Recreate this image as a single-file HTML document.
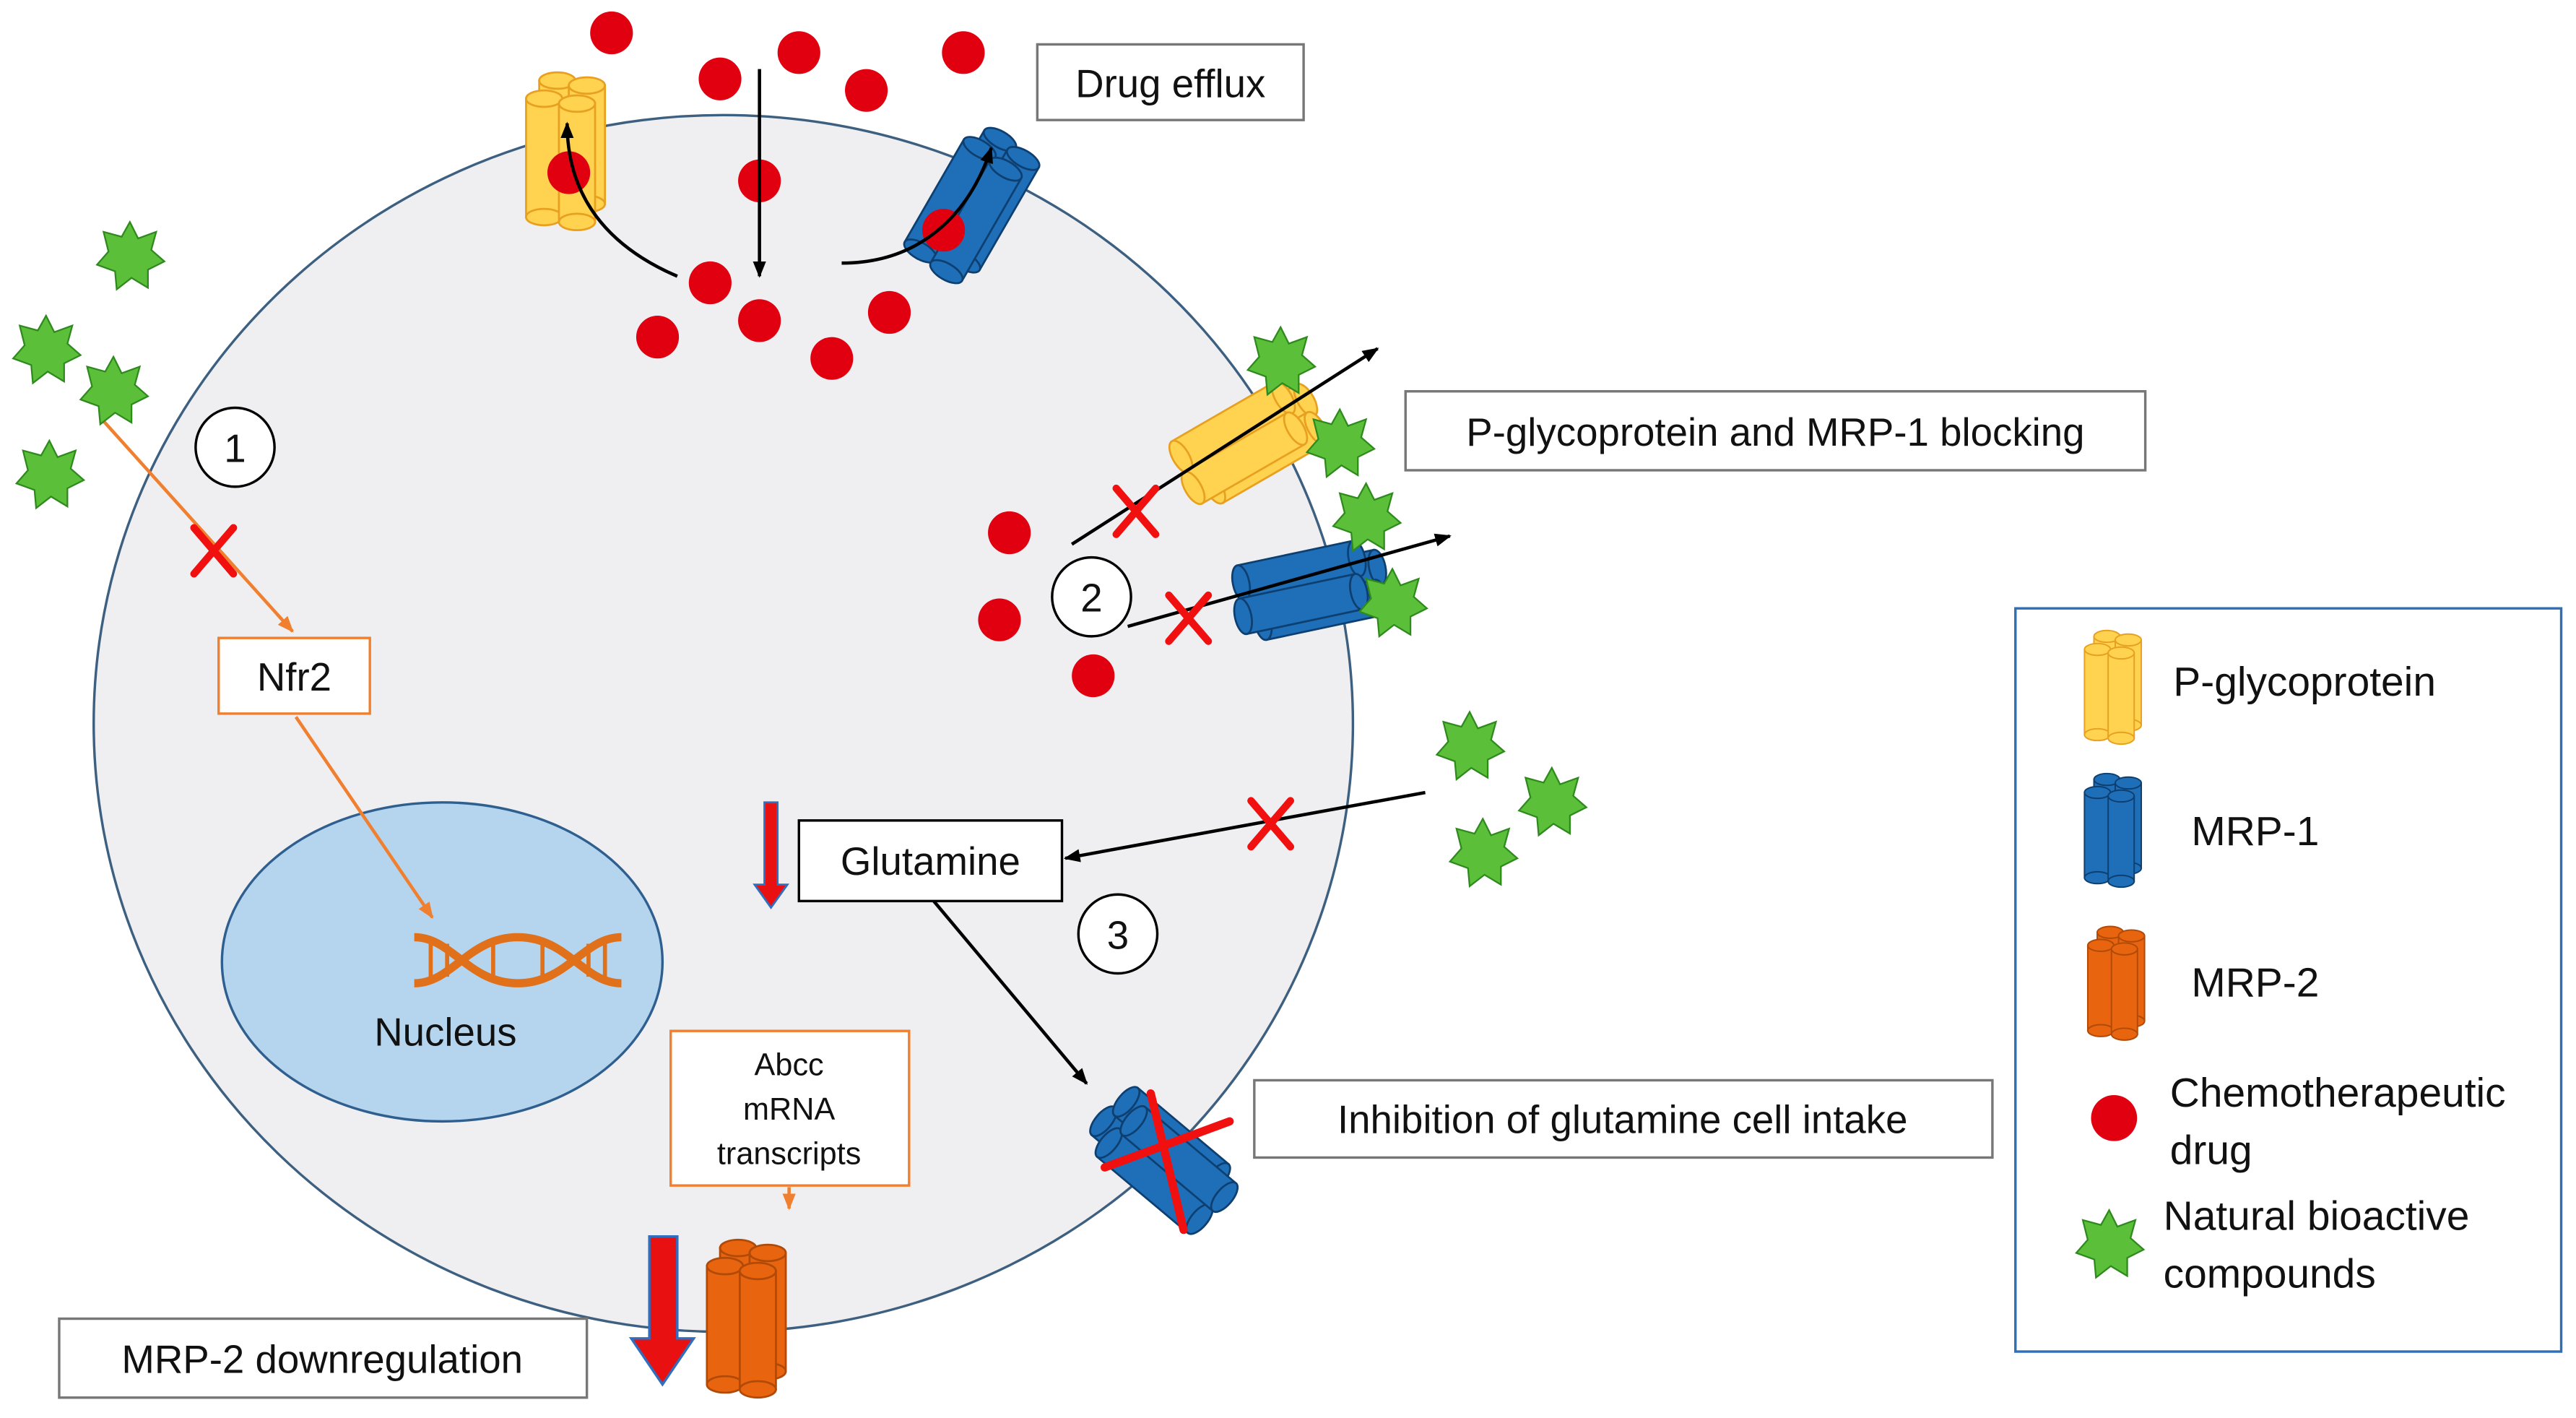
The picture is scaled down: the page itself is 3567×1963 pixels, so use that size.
<!DOCTYPE html>
<html><head><meta charset="utf-8"><style>
html,body{margin:0;padding:0;background:#fff}
svg{display:block}
text{font-family:"Liberation Sans",sans-serif;fill:#111}
</style></head><body>
<svg width="3567" height="1963" viewBox="0 0 1567 862.4" preserveAspectRatio="none" xmlns="http://www.w3.org/2000/svg">
<defs>
<marker id="ab" markerWidth="10" markerHeight="10" refX="9" refY="5" orient="auto" markerUnits="userSpaceOnUse"><path d="M0,1 L10,5 L0,9 z" fill="#000"/></marker>
<marker id="ao" markerWidth="10" markerHeight="10" refX="9" refY="5" orient="auto" markerUnits="userSpaceOnUse"><path d="M0,1 L10,5 L0,9 z" fill="#f08030"/></marker>
<g id="cy">
<rect x="-11" y="-36" width="22" height="72"/>
<ellipse cx="0" cy="36" rx="11" ry="5"/>
<ellipse cx="0" cy="-36" rx="11" ry="5"/>
</g>
<g id="tY" fill="#ffd250" stroke="#e8a020" stroke-width="1.2">
<use href="#cy" x="-6" y="-7"/><use href="#cy" x="12" y="-4"/><use href="#cy" x="-14" y="4"/><use href="#cy" x="6" y="7"/>
</g>
<g id="tB" fill="#1f6fb8" stroke="#0d3f70" stroke-width="1.2">
<use href="#cy" x="-6" y="-7"/><use href="#cy" x="12" y="-4"/><use href="#cy" x="-14" y="4"/><use href="#cy" x="6" y="7"/>
</g>
<g id="tO" fill="#e8640e" stroke="#b04a08" stroke-width="1.2">
<use href="#cy" x="-6" y="-7"/><use href="#cy" x="12" y="-4"/><use href="#cy" x="-14" y="4"/><use href="#cy" x="6" y="7"/>
</g>
<polygon id="st" points="0,-21 5,-11 16,-15 13,-4 21,3 11,8 11,19 1,13 -8,20 -9,9 -20,5 -13,-3 -16,-15 -5,-12" fill="#5cbf3a" stroke="#2f8a1e" stroke-width="1"/>
<g id="rx" stroke="#f01010" stroke-width="4.5" stroke-linecap="round"><line x1="-12" y1="-14" x2="12" y2="14"/><line x1="12" y1="-14" x2="-12" y2="14"/></g>
</defs>

<ellipse cx="440" cy="440" rx="383" ry="370" fill="#efeff1" stroke="#3d5f80" stroke-width="1.5"/>
<ellipse cx="269" cy="585" rx="134" ry="97" fill="#b5d5ee" stroke="#2f5f8f" stroke-width="1.5"/>
<g stroke="#e0701a" stroke-width="5" fill="none">
<path d="M252,570 C275,570 285,598 315,598 C345,598 355,570 378,570"/>
<path d="M252,598 C275,598 285,570 315,570 C345,570 355,598 378,598"/>
</g>
<g stroke="#e0701a" stroke-width="2.5"><line x1="262" y1="572" x2="262" y2="596"/><line x1="272" y1="574" x2="272" y2="594"/><line x1="300" y1="574" x2="300" y2="594"/><line x1="330" y1="574" x2="330" y2="594"/><line x1="358" y1="574" x2="358" y2="594"/><line x1="368" y1="572" x2="368" y2="596"/></g>
<text x="271" y="636" font-size="24" text-anchor="middle">Nucleus</text>

<use href="#tY" transform="translate(345,92)"/>
<use href="#tB" transform="translate(592,125) rotate(30)"/>
<use href="#tY" transform="translate(760,270) rotate(60)"/>
<use href="#tB" transform="translate(797,360) rotate(78)"/>
<use href="#tB" transform="translate(708,705) rotate(-50)"/>
<use href="#tO" transform="translate(455,802)"/>

<g fill="#e00010">
<circle cx="372" cy="20" r="13"/><circle cx="438" cy="48" r="13"/><circle cx="486" cy="32" r="13"/><circle cx="527" cy="55" r="13"/><circle cx="586" cy="32" r="13"/><circle cx="462" cy="110" r="13"/><circle cx="346" cy="105" r="13"/><circle cx="432" cy="172" r="13"/><circle cx="462" cy="195" r="13"/><circle cx="400" cy="205" r="13"/><circle cx="506" cy="218" r="13"/><circle cx="541" cy="190" r="13"/><circle cx="574" cy="140" r="13"/><circle cx="614" cy="324" r="13"/><circle cx="608" cy="377" r="13"/><circle cx="665" cy="411" r="13"/>
</g>

<g stroke="#000" stroke-width="2" fill="none">
<line x1="462" y1="42" x2="462" y2="168" marker-end="url(#ab)"/>
<path d="M412,168 C370,150 345,120 345,75" marker-end="url(#ab)"/>
<path d="M512,160 C560,160 590,130 603,90" marker-end="url(#ab)"/>
<line x1="652" y1="331" x2="838" y2="212" marker-end="url(#ab)"/>
<line x1="686" y1="381" x2="882" y2="326" marker-end="url(#ab)"/>
<line x1="867" y1="482" x2="648" y2="522" marker-end="url(#ab)"/>
<line x1="568" y1="548" x2="661" y2="659" marker-end="url(#ab)"/>
</g>
<g stroke="#f08030" stroke-width="2" fill="none">
<line x1="62" y1="255" x2="178" y2="384" marker-end="url(#ao)"/>
<line x1="180" y1="436" x2="263" y2="558" marker-end="url(#ao)"/>
<line x1="480" y1="722" x2="480" y2="735" marker-end="url(#ao)"/>
</g>

<use href="#st" x="79" y="156"/><use href="#st" x="28" y="213"/><use href="#st" x="69" y="238"/><use href="#st" x="30" y="289"/>
<use href="#st" x="779" y="220"/><use href="#st" x="815" y="270"/><use href="#st" x="831" y="315"/><use href="#st" x="847" y="367"/>
<use href="#st" x="894" y="454"/><use href="#st" x="944" y="488"/><use href="#st" x="902" y="519"/>

<use href="#rx" x="130" y="335"/><use href="#rx" x="691" y="311"/><use href="#rx" x="723" y="376"/><use href="#rx" x="773" y="501"/>
<g stroke="#f01010" stroke-width="5" stroke-linecap="round"><line x1="672" y1="710" x2="748" y2="682"/><line x1="700" y1="665" x2="720" y2="748"/></g>

<path d="M465,488 h8 v50 h6 l-10,14 l-10,-14 h6 z" fill="#e81010" stroke="#2f6fc0" stroke-width="1.2"/>
<path d="M395,752 h17 v62 h10 l-19,28 l-19,-28 h11 z" fill="#e81010" stroke="#2f6fc0" stroke-width="1.5"/>

<g fill="#fff" stroke="#000" stroke-width="1.5"><circle cx="143" cy="272" r="24"/><circle cx="664" cy="363" r="24"/><circle cx="680" cy="568" r="24"/></g>
<text x="143" y="281" font-size="24" text-anchor="middle">1</text>
<text x="664" y="372" font-size="24" text-anchor="middle">2</text>
<text x="680" y="577" font-size="24" text-anchor="middle">3</text>

<g fill="#fff" stroke="#777" stroke-width="1.5">
<rect x="631" y="27" width="162" height="46"/>
<rect x="855" y="238" width="450" height="48"/>
<rect x="763" y="657" width="449" height="47"/>
<rect x="36" y="802" width="321" height="48"/>
</g>
<rect x="486" y="499" width="160" height="49" fill="#fff" stroke="#000" stroke-width="1.5"/>
<rect x="133" y="388" width="92" height="46" fill="#fff" stroke="#f08030" stroke-width="1.5"/>
<rect x="408" y="627" width="145" height="94" fill="#fff" stroke="#f08030" stroke-width="1.5"/>
<text x="712" y="59" font-size="24" text-anchor="middle">Drug efflux</text>
<text x="1080" y="271" font-size="24" text-anchor="middle">P-glycoprotein and MRP-1 blocking</text>
<text x="987" y="689" font-size="24" text-anchor="middle">Inhibition of glutamine cell intake</text>
<text x="196" y="835" font-size="24" text-anchor="middle">MRP-2 downregulation</text>
<text x="566" y="532" font-size="24" text-anchor="middle">Glutamine</text>
<text x="179" y="420" font-size="24" text-anchor="middle">Nfr2</text>
<text x="480" y="654" font-size="19" text-anchor="middle">Abcc</text>
<text x="480" y="681" font-size="19" text-anchor="middle">mRNA</text>
<text x="480" y="708" font-size="19" text-anchor="middle">transcripts</text>

<rect x="1226" y="370" width="332" height="452" fill="#fff" stroke="#2f6fb8" stroke-width="1.5"/>
<use href="#tY" transform="translate(1286,418) scale(0.72)"/>
<use href="#tB" transform="translate(1286,505) scale(0.72)"/>
<use href="#tO" transform="translate(1288,598) scale(0.72)"/>
<circle cx="1286" cy="680" r="14" fill="#e00010"/>
<use href="#st" x="1283" y="757"/>
<text x="1322" y="423" font-size="25">P-glycoprotein</text>
<text x="1333" y="514" font-size="25">MRP-1</text>
<text x="1333" y="606" font-size="25">MRP-2</text>
<text x="1320" y="673" font-size="25">Chemotherapeutic</text>
<text x="1320" y="708" font-size="25">drug</text>
<text x="1316" y="748" font-size="25">Natural bioactive</text>
<text x="1316" y="783" font-size="25">compounds</text>
</svg>
</body></html>
